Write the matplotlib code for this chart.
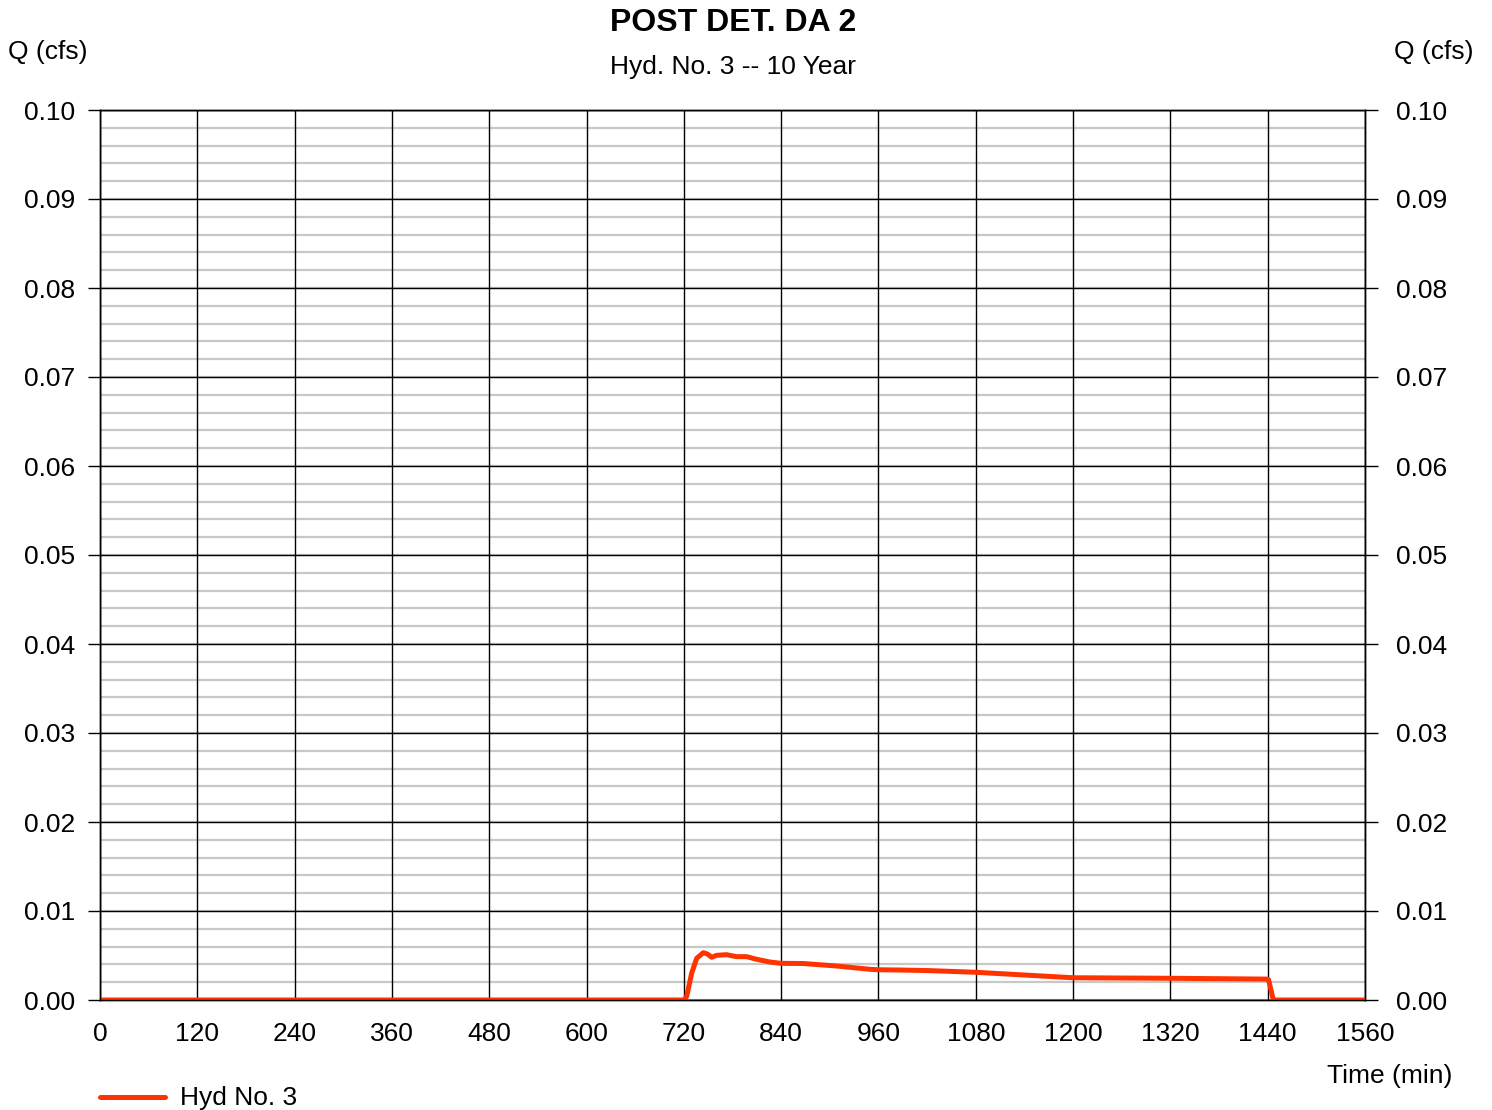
import matplotlib
matplotlib.use("Agg")
import matplotlib.pyplot as plt
import numpy as np

plt.rcParams['font.family'] = ['Liberation Sans', 'DejaVu Sans']

title = "POST DET. DA 2"
subtitle = "Hyd. No. 3 -- 10 Year"
series_name = "Hyd No. 3"

time_min = [0, 720, 723.5, 729.6, 735.8, 744, 749, 754.3, 760.5, 772.7, 785, 797.4,
            810, 826, 839.8, 867, 908.4, 949.5, 960, 986.6, 1023.5, 1081, 1200,
            1319.5, 1438.7, 1441, 1447, 1560]
flow_cfs = [0, 0, 0.0004, 0.0030, 0.00468, 0.00532, 0.00517, 0.0048, 0.00502, 0.00509,
            0.00487, 0.00487, 0.00457, 0.00427, 0.00412, 0.00410, 0.00382, 0.00345,
            0.0034, 0.00337, 0.00330, 0.00311, 0.0025, 0.00244, 0.00235, 0.0023, 0, 0]

x_ticks = [0, 120, 240, 360, 480, 600, 720, 840, 960, 1080, 1200, 1320, 1440, 1560]
y_ticks = [0.00, 0.01, 0.02, 0.03, 0.04, 0.05, 0.06, 0.07, 0.08, 0.09, 0.10]
y_minor = [round(0.002 * i, 3) for i in range(51)]

W, H = 1492, 1110
FS = 19
fig = plt.figure(figsize=(W / 100, H / 100), dpi=100)
ax = fig.add_axes([100 / W, 1 - 1000 / H, 1265 / W, 890 / H])

ax.set_xlim(0, 1560)
ax.set_ylim(0, 0.10)

# minor gray grid
for yv in y_minor:
    ax.axhline(yv, color='#c8c8c8', lw=1.6, zorder=1)
# major grid
for yv in y_ticks:
    ax.axhline(yv, color='black', lw=1.0, zorder=2)
for xv in x_ticks:
    ax.axvline(xv, color='black', lw=1.0, zorder=2)

ax.plot(time_min, flow_cfs, color='#ff3300', lw=3.6, zorder=5,
        solid_joinstyle='round', solid_capstyle='round')

for s in ax.spines.values():
    s.set_linewidth(1.0)
    s.set_color('black')

ax.set_xticks(x_ticks)
ax.set_xticklabels([str(v) for v in x_ticks], fontsize=FS)
ax.set_yticks(y_ticks)
ax.set_yticklabels([f"{v:.2f}" for v in y_ticks], fontsize=FS)
ax.tick_params(axis='x', length=0, pad=15.5)
ax.tick_params(axis='y', length=9, width=1.0, pad=9, left=True, labelleft=True,
               right=False, labelright=False)

# right axis
ax2 = ax.twinx()
ax2.set_ylim(0, 0.10)
ax2.set_yticks(y_ticks)
ax2.set_yticklabels([f"{v:.2f}" for v in y_ticks], fontsize=FS)
ax2.tick_params(axis='y', length=9, width=1.0, pad=13)
for s in ax2.spines.values():
    s.set_linewidth(1.0)
    s.set_color('black')

fig.text(733 / W, 1 - 23 / H, title, ha='center', va='center', fontsize=23, fontweight='bold')
fig.text(733 / W, 1 - 67 / H, subtitle, ha='center', va='center', fontsize=19)
fig.text(8 / W, 1 - 52 / H, "Q (cfs)", ha='left', va='center', fontsize=FS)
fig.text(1474 / W, 1 - 52 / H, "Q (cfs)", ha='right', va='center', fontsize=FS)
fig.text(1452 / W, 1 - 1076 / H, "Time (min)", ha='right', va='center', fontsize=FS)

# legend
fig.add_artist(plt.Line2D([100 / W, 165 / W], [1 - 1097 / H, 1 - 1097 / H],
                          color='#ff3300', lw=3.6, solid_capstyle='round'))
fig.text(180 / W, 1 - 1098 / H, series_name, ha='left', va='center', fontsize=FS)

fig.savefig("out.png", dpi=100)
